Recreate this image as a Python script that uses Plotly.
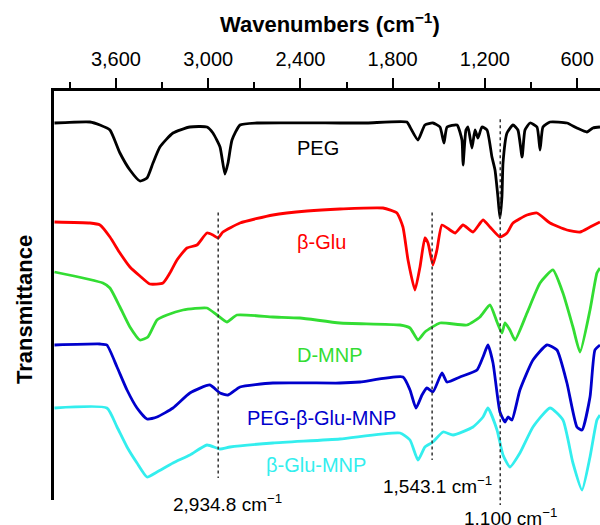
import plotly.graph_objects as go

# Wavenumbers (cm^-1) and transmittance (arbitrary, offset)
peg_wn = [4000, 3769, 3704, 3639, 3574, 3509, 3444, 3398, 3359, 3314, 3229, 3119, 3008, 2969, 2923, 2891,
          2871, 2845, 2793, 2683, 2143, 1967, 1707, 1687, 1635, 1590, 1538, 1492, 1466, 1446, 1381, 1349,
          1342, 1323, 1310, 1284, 1264, 1245, 1219, 1186, 1154, 1134, 1115, 1102, 1089, 1082, 1056, 1017,
          985, 958, 939, 906, 861, 841, 822, 776, 666, 601, 536, 497, 451]
peg_t = [377, 378, 375, 370, 347, 330, 319, 322, 337, 353, 367, 373, 373, 367, 353, 326,
         337, 360, 375, 377, 377, 377, 378, 373, 360, 375, 377, 373, 357, 373, 375, 360,
         335, 370, 373, 352, 370, 362, 373, 370, 343, 330, 303, 282, 303, 337, 367, 375,
         370, 343, 370, 377, 373, 350, 373, 378, 377, 372, 368, 372, 373]

glu_wn = [4000, 3769, 3704, 3639, 3574, 3509, 3444, 3379, 3294, 3249, 3203, 3138, 3073, 3008, 2969, 2936,
          2904, 2793, 2579, 2357, 2143, 1863, 1772, 1733, 1700, 1655, 1622, 1590, 1570, 1538, 1512, 1479,
          1427, 1394, 1342, 1277, 1212, 1167, 1102, 1056, 1017, 926, 861, 776, 666, 581, 516, 451]
glu_t = [278, 277, 275, 263, 247, 233, 224, 216, 217, 227, 240, 252, 255, 267, 265, 262,
         268, 277, 285, 289, 291, 292, 287, 273, 240, 210, 233, 262, 257, 235, 250, 275,
         270, 267, 275, 268, 280, 273, 263, 267, 277, 285, 287, 277, 270, 268, 273, 278]

dmnp_wn = [4000, 3685, 3639, 3574, 3509, 3444, 3392, 3333, 3268, 3164, 3008, 2943, 2878, 2813, 2579, 2403,
           2143, 1752, 1687, 1635, 1590, 1492, 1316, 1232, 1167, 1121, 1089, 1069, 1037, 1004, 926, 841,
           757, 692, 627, 581, 516, 471, 451]
dmnp_t = [228, 217, 212, 193, 173, 160, 163, 180, 185, 190, 192, 185, 178, 185, 183, 182,
          177, 175, 172, 160, 168, 177, 175, 183, 195, 178, 167, 177, 170, 160, 187, 217,
          230, 207, 173, 148, 190, 227, 232]

pgm_wn = [4000, 3704, 3659, 3593, 3528, 3463, 3398, 3333, 3229, 3119, 2989, 2923, 2871, 2793, 2579, 2143,
          2012, 1733, 1687, 1648, 1609, 1577, 1538, 1479, 1446, 1362, 1251, 1212, 1180, 1147, 1102, 1069,
          1050, 1024, 972, 887, 796, 731, 666, 601, 568, 516, 484, 451]
pgm_t = [155, 156, 155, 133, 110, 92, 81, 83, 92, 107, 115, 107, 105, 113, 117, 117,
         118, 123, 110, 92, 105, 112, 108, 127, 118, 123, 130, 143, 155, 137, 88, 78,
         83, 80, 110, 140, 155, 150, 117, 73, 70, 103, 150, 155]

gm_wn = [4000, 3659, 3593, 3528, 3463, 3398, 3333, 3229, 3119, 3008, 2923, 2858, 2579, 2143, 1752, 1687,
         1635, 1590, 1538, 1472, 1407, 1277, 1212, 1180, 1121, 1082, 1037, 972, 887, 776, 692, 627,
         568, 516, 471, 451]
gm_t = [92, 92, 73, 53, 37, 23, 28, 37, 45, 55, 51, 53, 57, 61, 67, 60,
        40, 53, 58, 68, 65, 73, 83, 92, 70, 45, 33, 47, 73, 92, 80, 37,
        10, 43, 80, 85]

series_names = ["PEG", "β-Glu", "D-MNP", "PEG-β-Glu-MNP", "β-Glu-MNP"]
series_colors = ["#000000", "#FF0000", "#33DD33", "#0000CC", "#33EEEE"]

marker_wn = [2934.8, 1543.1, 1100]
marker_labels = ["2,934.8 cm<sup>−1</sup>", "1,543.1 cm<sup>−1</sup>", "1,100 cm<sup>−1</sup>"]

tick_vals = [3600, 3000, 2400, 1800, 1200, 600]
tick_text = ["3,600", "3,000", "2,400", "1,800", "1,200", "600"]
minor_vals = [3900, 3300, 2700, 2100, 1500, 900]

FONT = "Arial, Liberation Sans, sans-serif"

fig = go.Figure()
data = [(peg_wn, peg_t), (glu_wn, glu_t), (dmnp_wn, dmnp_t), (pgm_wn, pgm_t), (gm_wn, gm_t)]
for (wn, t), name, col in zip(data, series_names, series_colors):
    fig.add_trace(go.Scatter(x=wn, y=t, mode="lines", name=name,
                             line=dict(color=col, width=2.8, shape="spline", smoothing=0.5),
                             showlegend=False))

# dashed marker lines (paper y extents)
line_extents = [(0.703, 0.054), (0.703, 0.098), (0.931, -0.012)]
for w, (y0, y1) in zip(marker_wn, line_extents):
    fig.add_shape(type="line", xref="x", yref="paper", x0=w, x1=w, y0=y0, y1=y1,
                  line=dict(color="#333333", width=1.5, dash="3px,3px"))

# marker labels
label_pos = [(227, -0.007), (437, 0.037), (510, -0.041)]
for (px, py), txt in zip(label_pos, marker_labels):
    fig.add_annotation(xref="paper", yref="paper", x=(px - 54) / 546, y=py, text=txt,
                       showarrow=False, font=dict(family=FONT, size=19, color="#000000"),
                       xanchor="center", yanchor="middle")

# series labels (pixel x, pixel y)
series_label_pos = [(318, 148), (321, 242), (330, 355), (321, 418), (316, 465)]
for (px, py), name, col in zip(series_label_pos, series_names, series_colors):
    fig.add_annotation(xref="paper", yref="paper", x=(px - 54) / 546, y=(500 - py) / 409,
                       text=name, showarrow=False,
                       font=dict(family=FONT, size=20, color=col),
                       xanchor="center", yanchor="middle")

# axis titles
fig.add_annotation(xref="paper", yref="paper", x=(330 - 54) / 546, y=(500 - 23) / 409,
                   text="<b>Wavenumbers (cm<sup>−1</sup>)</b>", showarrow=False,
                   font=dict(family=FONT, size=22, color="#000000"),
                   xanchor="center", yanchor="middle")
fig.add_annotation(xref="paper", yref="paper", x=(24 - 54) / 546, y=(500 - 310) / 409,
                   text="<b>Transmittance</b>", showarrow=False, textangle=-90,
                   font=dict(family=FONT, size=22, color="#000000"),
                   xanchor="center", yanchor="middle")

fig.update_layout(
    width=600, height=525,
    margin=dict(l=54, r=0, t=91, b=25),
    paper_bgcolor="white", plot_bgcolor="white",
    font=dict(family=FONT, color="#000000"),
    xaxis=dict(side="top", range=[4003, 451], showgrid=False, zeroline=False,
               showline=True, linecolor="black", linewidth=2.5,
               ticks="outside", ticklen=10, tickwidth=2, tickcolor="black",
               tickvals=tick_vals, ticktext=tick_text,
               tickfont=dict(family=FONT, size=20, color="black"),
               ticklabelstandoff=4,
               minor=dict(tickvals=minor_vals, ticks="outside", ticklen=6,
                          tickwidth=2, tickcolor="black", showgrid=False)),
    yaxis=dict(range=[0, 409], showgrid=False, zeroline=False, showticklabels=False,
               ticks="", showline=True, linecolor="black", linewidth=2.5),
)

fig.write_html("out.html")
